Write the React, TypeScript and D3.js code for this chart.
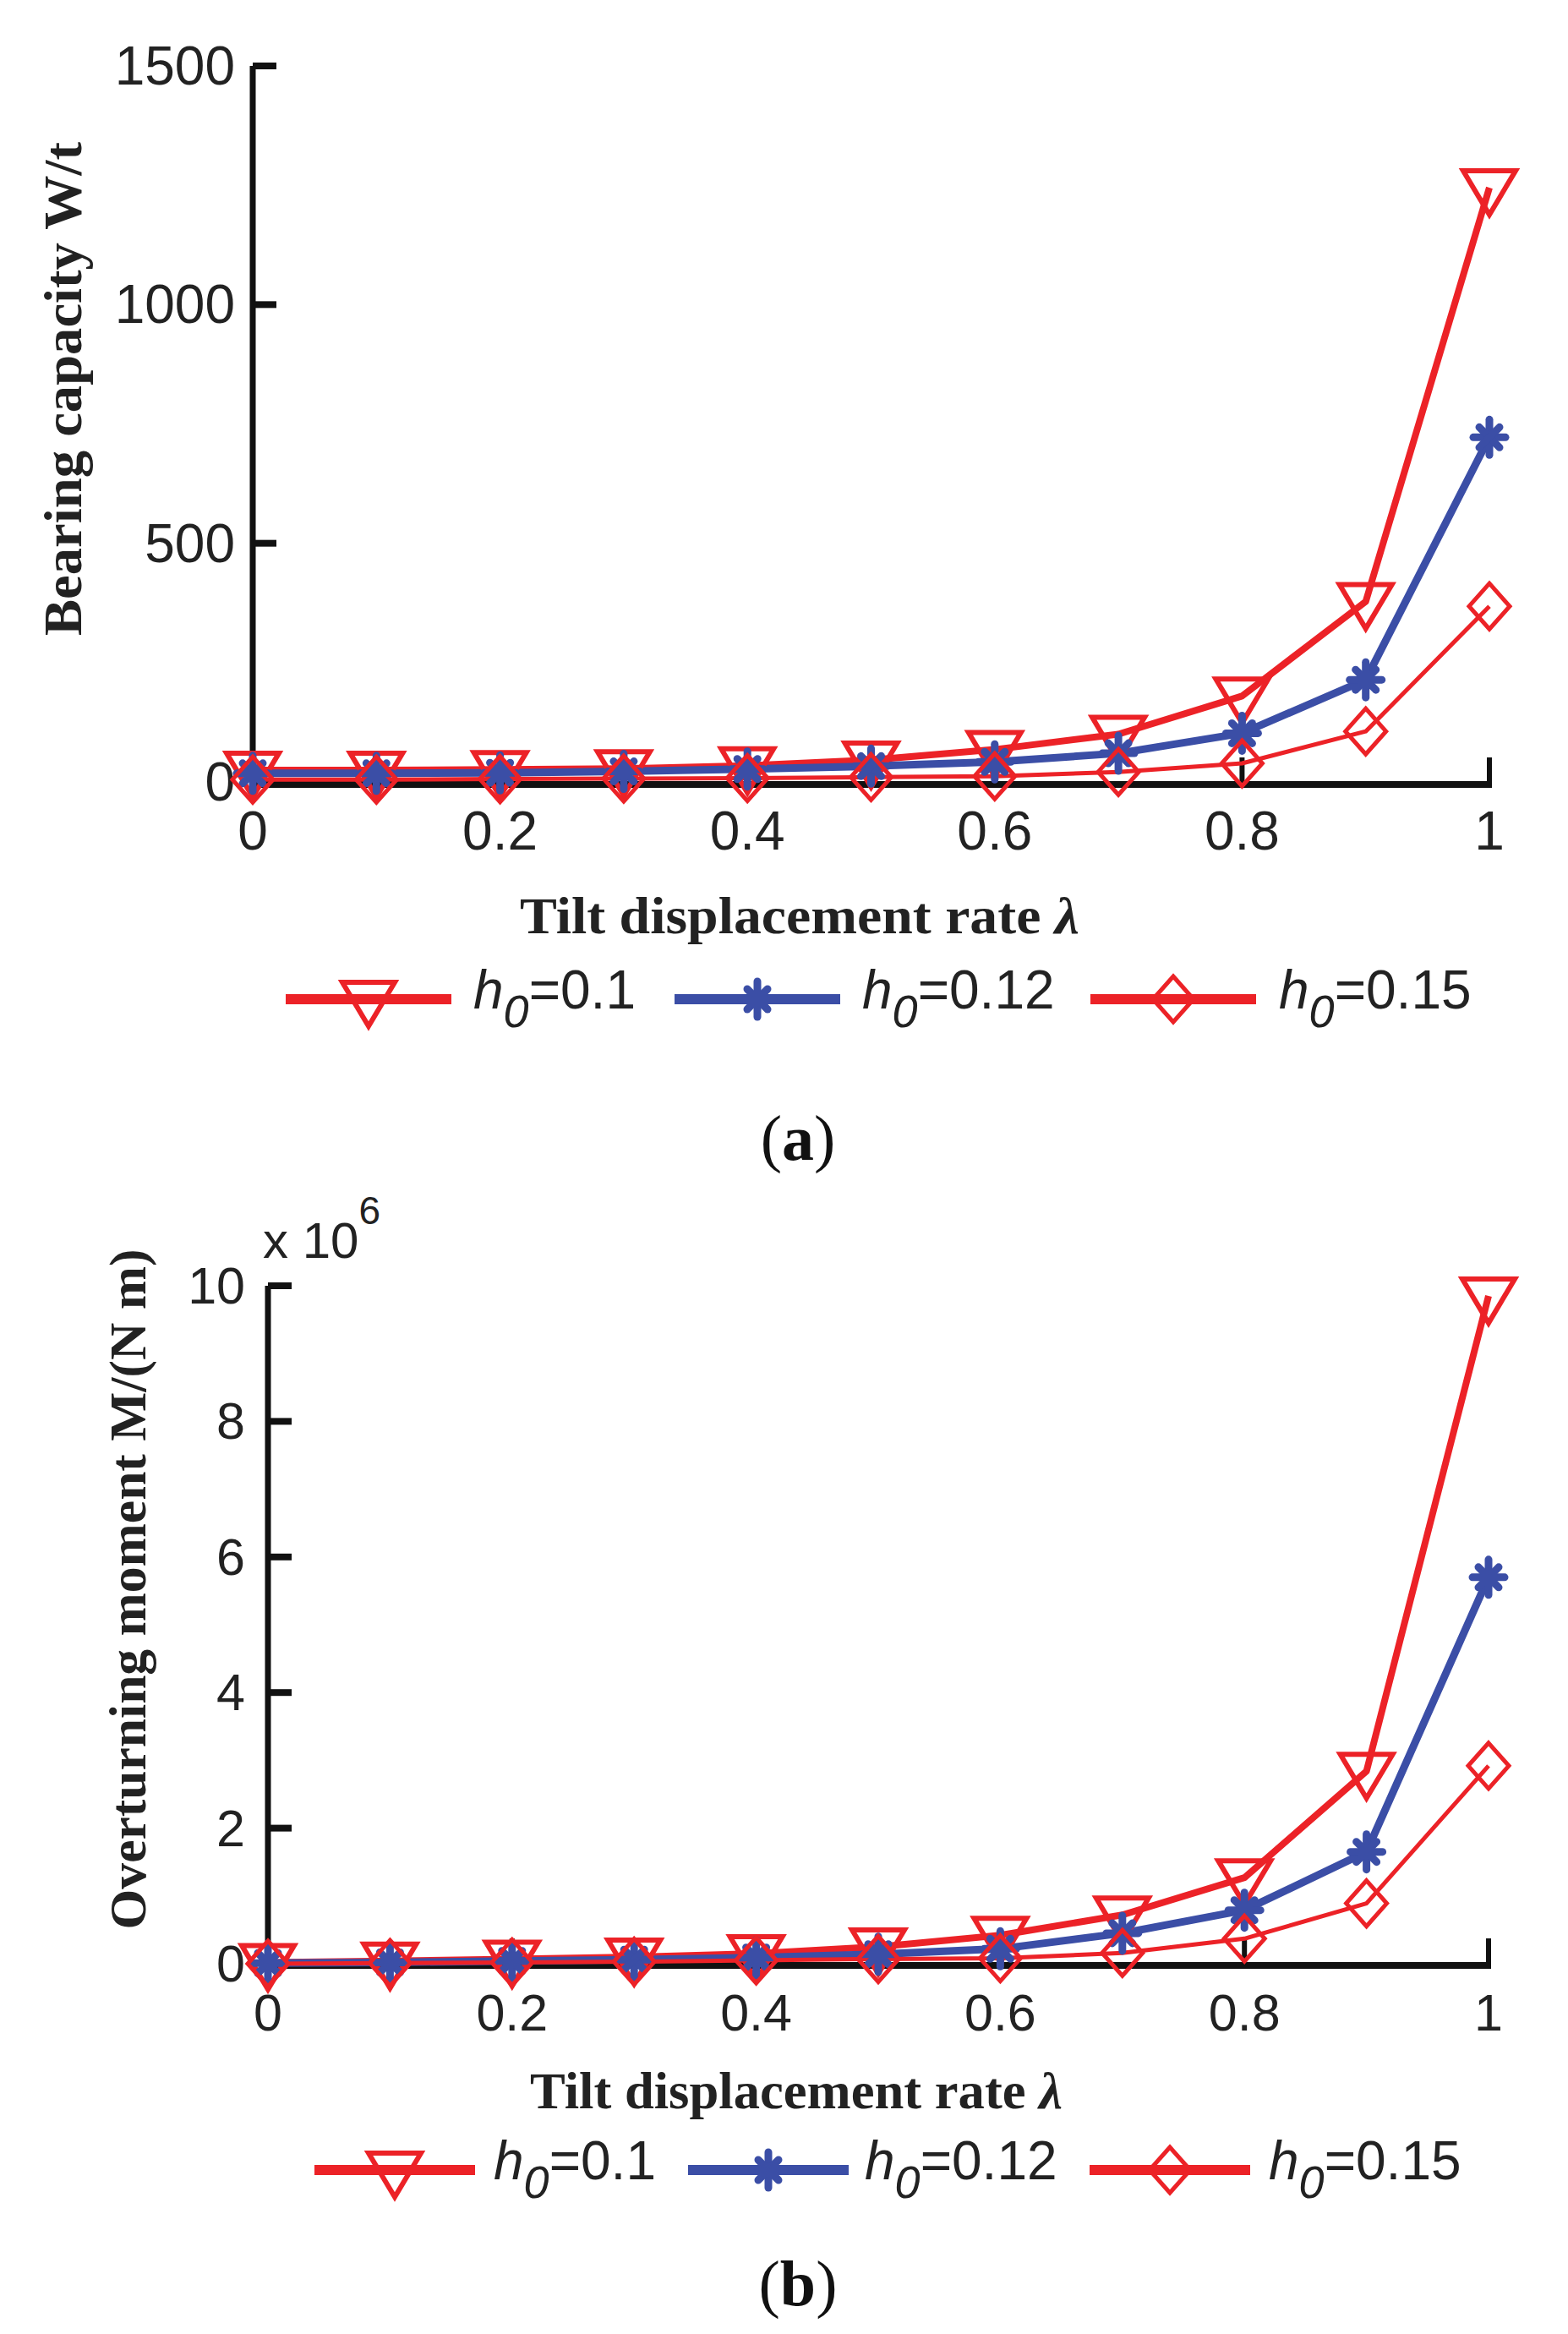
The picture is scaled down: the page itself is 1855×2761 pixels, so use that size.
import React from 'react';
import * as d3 from 'd3';

// lambda values shared by both panels
const lambdas = [0, 0.1, 0.2, 0.3, 0.4, 0.5, 0.6, 0.7, 0.8, 0.9, 1];
const xTicks = [0, 0.2, 0.4, 0.6, 0.8, 1];

// (a) bearing capacity W/t
const bearingH010 = [25, 25, 26, 28, 34, 46, 68, 100, 180, 378, 1245];
const bearingH012 = [18, 18, 19, 22, 27, 33, 42, 60, 102, 214, 722];
const bearingH015 = [5, 5, 6, 7, 8, 10, 12, 21, 39, 106, 368];
const bearingTicks = [0, 500, 1000, 1500];

// (b) overturning moment M/(N m), x 10^6
const momentH010 = [0.02, 0.04, 0.07, 0.1, 0.15, 0.25, 0.42, 0.72, 1.27, 2.84, 9.85];
const momentH012 = [0.01, 0.02, 0.04, 0.06, 0.09, 0.14, 0.22, 0.45, 0.79, 1.65, 5.7];
const momentH015 = [0, 0.01, 0.02, 0.03, 0.05, 0.07, 0.08, 0.16, 0.37, 0.89, 2.92];
const momentTicks = [0, 2, 4, 6, 8, 10];

const legendLabels = ['0.1', '0.12', '0.15'];

const RED = '#ec2227';
const BLUE = '#3b4ea6';
const SANS = 'Liberation Sans, Arial, sans-serif';
const SERIF = 'Liberation Serif, Times New Roman, serif';

type MarkerKind = 'tri' | 'star' | 'diamond';

const Marker = ({ kind, x, y }: { kind: MarkerKind; x: number; y: number }) => {
    if (kind === 'tri') {
        return (
            <path
                d={`M${x - 31},${y - 20}L${x + 31},${y - 20}L${x},${y + 32}Z`}
                fill="none"
                stroke={RED}
                strokeWidth={6}
                strokeLinejoin="miter"
            />
        );
    }
    if (kind === 'diamond') {
        return (
            <path
                d={`M${x},${y - 27}L${x + 24},${y}L${x},${y + 27}L${x - 24},${y}Z`}
                fill="none"
                stroke={RED}
                strokeWidth={5}
            />
        );
    }
    return (
        <g stroke={BLUE} strokeWidth={9} strokeLinecap="round">
            <line x1={x - 19} y1={y} x2={x + 19} y2={y} />
            <line x1={x} y1={y - 21} x2={x} y2={y + 21} />
            <line x1={x - 12} y1={y - 12} x2={x + 12} y2={y + 12} />
            <line x1={x - 12} y1={y + 12} x2={x + 12} y2={y - 12} />
        </g>
    );
};

interface PanelProps {
    series: number[][];
    yMax: number;
    yTicks: number[];
    xRange: [number, number];
    yRange: [number, number];
    axisY: number;
    yLabelRight: number;
    xLabelBase: number;
    tickFont: number;
}

const seriesStyle: { color: string; width: number; kind: MarkerKind }[] = [
    { color: RED, width: 8, kind: 'tri' },
    { color: BLUE, width: 9, kind: 'star' },
    { color: RED, width: 5, kind: 'diamond' },
];

const Panel = ({ series, yMax, yTicks, xRange, yRange, axisY, yLabelRight, xLabelBase, tickFont }: PanelProps) => {
    const x = d3.scaleLinear().domain([0, 1]).range(xRange);
    const y = d3.scaleLinear().domain([0, yMax]).range(yRange);
    const line = d3
        .line<number>()
        .x((_, i) => x(lambdas[i]))
        .y((d) => y(d));

    return (
        <g>
            {/* axes */}
            <line x1={xRange[0]} y1={yRange[1]} x2={xRange[0]} y2={axisY + 4} stroke="#111" strokeWidth={7} />
            <line x1={xRange[0] - 3} y1={axisY} x2={xRange[1] + 3} y2={axisY} stroke="#111" strokeWidth={8} />
            {yTicks.map((t) => (
                <g key={'y' + t}>
                    {t > 0 && <line x1={xRange[0]} y1={y(t)} x2={xRange[0] + 28} y2={y(t)} stroke="#111" strokeWidth={8} />}
                    <text
                        x={yLabelRight}
                        y={y(t)}
                        dominantBaseline="central"
                        textAnchor="end"
                        fontFamily={SANS}
                        fontSize={tickFont}
                        fill="#222"
                    >
                        {t}
                    </text>
                </g>
            ))}
            {xTicks.map((t) => (
                <g key={'x' + t}>
                    {t > 0 && <line x1={x(t)} y1={axisY} x2={x(t)} y2={axisY - 32} stroke="#111" strokeWidth={6} />}
                    <text x={x(t)} y={xLabelBase} textAnchor="middle" fontFamily={SANS} fontSize={tickFont} fill="#222">
                        {t}
                    </text>
                </g>
            ))}
            {/* series */}
            {series.map((s, k) => (
                <path key={'l' + k} d={line(s) ?? ''} fill="none" stroke={seriesStyle[k].color} strokeWidth={seriesStyle[k].width} strokeLinejoin="round" />
            ))}
            {series.map((s, k) =>
                s.map((v, i) => <Marker key={`m${k}-${i}`} kind={seriesStyle[k].kind} x={x(lambdas[i])} y={y(v)} />)
            )}
        </g>
    );
};

const Legend = ({ lineY, starts, textStarts, lineLen }: { lineY: number; starts: number[]; textStarts: number[]; lineLen: number }) => (
    <g>
        {legendLabels.map((lab, k) => (
            <g key={lab}>
                <line x1={starts[k]} y1={lineY} x2={starts[k] + lineLen} y2={lineY} stroke={seriesStyle[k].color} strokeWidth={12} />
                <Marker kind={seriesStyle[k].kind} x={starts[k] + lineLen / 2} y={lineY} />
                <text x={textStarts[k]} y={lineY + 11} fontFamily={SANS} fontSize={64} fill="#222">
                    <tspan fontStyle="italic">h</tspan>
                    <tspan fontStyle="italic" fontSize={54} dy={22}>0</tspan>
                    <tspan dy={-22}>={lab}</tspan>
                </text>
            </g>
        ))}
    </g>
);

const App = () => {
    return (
        <svg width={1855} height={2761} style={{ position: 'absolute', left: 0, top: 0, background: '#fff' }}>
            <rect width={1855} height={2761} fill="#fff" />

            {/* panel (a) */}
            <Panel
                series={[bearingH010, bearingH012, bearingH015]}
                yMax={1500}
                yTicks={bearingTicks}
                xRange={[299, 1762]}
                yRange={[925, 78]}
                axisY={928}
                yLabelRight={278}
                xLabelBase={1005}
                tickFont={64}
            />
            <text
                transform="translate(96,460) rotate(-90)"
                textAnchor="middle"
                fontFamily={SERIF}
                fontWeight="bold"
                fontSize={64}
                textLength={584}
                lengthAdjust="spacingAndGlyphs"
                fill="#222"
            >
                Bearing capacity W/t
            </text>
            <text
                x={946}
                y={1104}
                textAnchor="middle"
                fontFamily={SERIF}
                fontWeight="bold"
                fontSize={62}
                textLength={662}
                lengthAdjust="spacingAndGlyphs"
                fill="#222"
            >
                Tilt displacement rate <tspan fontStyle="italic">λ</tspan>
            </text>
            <Legend lineY={1182} starts={[338, 798, 1290]} textStarts={[560, 1020, 1513]} lineLen={196} />
            <text x={944} y={1372} textAnchor="middle" fontFamily={SERIF} fontSize={76} fill="#111">
                (<tspan fontWeight="bold">a</tspan>)
            </text>

            {/* panel (b) */}
            <Panel
                series={[momentH010, momentH012, momentH015]}
                yMax={10}
                yTicks={momentTicks}
                xRange={[317, 1761]}
                yRange={[2323, 1521]}
                axisY={2325}
                yLabelRight={290}
                xLabelBase={2402}
                tickFont={61}
            />
            <text x={311} y={1488} fontFamily={SANS} fontSize={60} fill="#222">
                x 10
                <tspan fontSize={46} dy={-40}>6</tspan>
            </text>
            <text
                transform="translate(172,1880) rotate(-90)"
                textAnchor="middle"
                fontFamily={SERIF}
                fontWeight="bold"
                fontSize={62}
                textLength={805}
                lengthAdjust="spacingAndGlyphs"
                fill="#222"
            >
                Overturning moment M/(N m)
            </text>
            <text
                x={942}
                y={2494}
                textAnchor="middle"
                fontFamily={SERIF}
                fontWeight="bold"
                fontSize={62}
                textLength={630}
                lengthAdjust="spacingAndGlyphs"
                fill="#222"
            >
                Tilt displacement rate <tspan fontStyle="italic">λ</tspan>
            </text>
            <Legend lineY={2567} starts={[372, 814, 1289]} textStarts={[584, 1023, 1501]} lineLen={190} />
            <text x={944} y={2727} textAnchor="middle" fontFamily={SERIF} fontSize={76} fill="#111">
                (<tspan fontWeight="bold">b</tspan>)
            </text>
        </svg>
    );
};

export default App;
